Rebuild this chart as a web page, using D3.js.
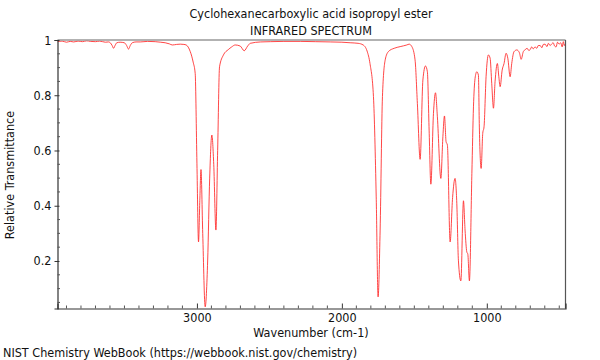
<!DOCTYPE html>
<html><head><meta charset="utf-8">
<script src="https://cdn.jsdelivr.net/npm/d3@7"></script>
<style>body{margin:0;background:#fff}svg text{font-family:"DejaVu Sans Condensed","DejaVu Sans",sans-serif;fill:#111}</style>
</head><body><svg id="c" width="600" height="360"></svg>
<script>
const titleLines = ["Cyclohexanecarboxylic acid isopropyl ester", "INFRARED SPECTRUM"];
const xLabel = "Wavenumber (cm-1)";
const yLabel = "Relative Transmittance";
const credit = "NIST Chemistry WebBook (https://webbook.nist.gov/chemistry)";
const xTicks = [3000, 2000, 1000];
const yTicks = [0.2, 0.4, 0.6, 0.8, 1];
const wavenumber = [3961,3930,3900,3874,3850,3820,3790,3760,3736,3700,3670,3632,3610,3598,3585,3575,3565,3553,3530,3501,3485,3472,3460,3446,3420,3391,3340,3288,3250,3219,3190,3170,3140,3115,3090,3074,3046,3026,3012,3000,2989,2980,2972,2960,2943,2926,2912,2897,2884,2869,2857,2844,2817,2784,2760,2736,2701,2674,2650,2632,2560,2494,2400,2287,2180,2080,2000,1943,1888,1853,1826,1806,1782,1763,1750,1736,1720,1701,1679,1639,1598,1552,1536,1517,1495,1479,1460,1441,1423,1410,1398,1386,1368,1354,1341,1317,1303,1292,1281,1272,1253,1236,1219,1207,1196,1179,1161,1150,1138,1131,1120,1103,1092,1081,1069,1058,1051,1039,1028,1019,1005,989,977,966,954,943,927,917,908,894,881,867,855,839,828,812,793,775,763,748,735,722,710,701,690,680,667,655,645,632,620,610,598,585,575,563,552,542,532,522,512,501,490,480,472,465,460];
const transmittance = [0.994,0.996,0.992,0.995,0.993,0.996,0.994,0.997,0.995,0.994,0.996,0.992,0.993,0.99,0.98,0.970,0.98,0.99,0.992,0.99,0.98,0.967,0.98,0.99,0.993,0.993,0.995,0.994,0.992,0.99,0.986,0.982,0.984,0.985,0.984,0.982,0.958,0.92,0.879,0.554,0.269,0.42,0.531,0.30,0.034,0.20,0.50,0.656,0.55,0.312,0.60,0.903,0.946,0.965,0.975,0.982,0.978,0.961,0.978,0.988,0.993,0.994,0.995,0.995,0.994,0.993,0.992,0.99,0.988,0.982,0.96,0.915,0.795,0.432,0.07,0.312,0.795,0.928,0.958,0.97,0.976,0.982,0.985,0.976,0.928,0.77,0.568,0.855,0.906,0.885,0.674,0.478,0.734,0.809,0.722,0.499,0.65,0.725,0.632,0.62,0.269,0.43,0.499,0.409,0.203,0.128,0.418,0.312,0.233,0.225,0.128,0.517,0.758,0.861,0.885,0.873,0.674,0.535,0.662,0.686,0.867,0.946,0.934,0.843,0.753,0.849,0.915,0.867,0.831,0.891,0.915,0.952,0.934,0.867,0.915,0.958,0.964,0.954,0.93,0.958,0.965,0.97,0.962,0.965,0.975,0.968,0.975,0.97,0.98,0.98,0.972,0.984,0.985,0.976,0.988,0.98,0.986,0.99,0.978,0.975,0.992,0.985,0.99,0.975,0.994,0.98,0.985,0.928];

const svg = d3.select("#c");
const L = 57.5, R = 565.5, T = 40, B = 308.5;
const x = d3.scaleLinear().domain([3962, 457]).range([L, R]);
const y = d3.scaleLinear().domain([0.028, 1]).range([B, T]);
const FS = 12.5;

const data = wavenumber.map((w, i) => [w, transmittance[i]]);

// spectrum
svg.append("path").datum(data)
  .attr("fill", "none").attr("stroke", "#ff2626").attr("stroke-width", 0.85)
  .attr("d", d3.line().x(d => x(d[0])).y(d => y(d[1])).curve(d3.curveMonotoneX));

// frame: top & right
svg.append("line").attr("x1", L).attr("x2", R).attr("y1", T).attr("y2", T).attr("stroke", "#999").attr("stroke-width", 1.5);
svg.append("line").attr("x1", R).attr("x2", R).attr("y1", T).attr("y2", B).attr("stroke", "#555").attr("stroke-width", 1.2);

// x axis
const xMinor = d3.range(500, 3901, 100).filter(v => !xTicks.includes(v));
const xAx = svg.append("g").attr("transform", `translate(0,${B})`);
xAx.call(d3.axisBottom(x).tickValues(xTicks).tickSize(-5).tickPadding(5).tickFormat(d3.format("d")));
xAx.selectAll(".tick line").attr("stroke", "#333");
xAx.select(".domain").attr("stroke", "#333").attr("stroke-width", 1.2);
xAx.selectAll(".tick text").attr("font-size", FS).attr("font-family", "DejaVu Sans Condensed, DejaVu Sans").attr("fill", "#111");
xAx.selectAll(".minor").data(xMinor).enter().append("line").attr("class", "minor")
  .attr("x1", d => x(d)).attr("x2", d => x(d)).attr("y1", 0).attr("y2", -3).attr("stroke", "#555");

// y axis
const yMinor = d3.range(0.05, 0.99, 0.05).filter(v => !yTicks.some(t => Math.abs(t - v) < 1e-6));
const yAx = svg.append("g").attr("transform", `translate(${L},0)`);
yAx.call(d3.axisLeft(y).tickValues(yTicks).tickSize(3).tickPadding(3).tickFormat(d => d === 1 ? "1" : d3.format(".1f")(d)));
yAx.selectAll(".tick line").attr("stroke", "#333").attr("x2", -3).attr("x1", 2);
yAx.select(".domain").attr("stroke", "#333").attr("stroke-width", 1.2);
yAx.selectAll(".tick text").attr("font-size", FS).attr("font-family", "DejaVu Sans Condensed, DejaVu Sans").attr("fill", "#111");
yAx.selectAll(".minor").data(yMinor).enter().append("line").attr("class", "minor")
  .attr("x1", 0).attr("x2", 2.5).attr("y1", d => y(d)).attr("y2", d => y(d)).attr("stroke", "#555");

// texts
svg.append("text").attr("x", 311).attr("y", 18).attr("text-anchor", "middle").attr("font-size", FS).text(titleLines[0]);
svg.append("text").attr("x", 311).attr("y", 34.5).attr("text-anchor", "middle").attr("font-size", FS).text(titleLines[1]);
svg.append("text").attr("x", 311).attr("y", 337).attr("text-anchor", "middle").attr("font-size", FS).text(xLabel);
svg.append("text").attr("transform", "translate(14,175) rotate(-90)").attr("text-anchor", "middle").attr("font-size", FS).text(yLabel);
svg.append("text").attr("x", 3).attr("y", 357).attr("font-size", FS).text(credit);
</script></body></html>
